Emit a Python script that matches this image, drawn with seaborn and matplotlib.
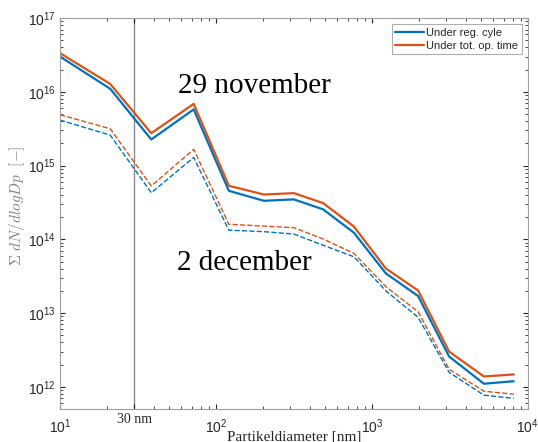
import numpy as np
import pandas as pd
import matplotlib
matplotlib.use("Agg")
import matplotlib.pyplot as plt
import seaborn as sns

# Data
diam = [10, 21, 38.5, 72, 121, 203, 316, 487, 767, 1230, 1980, 3130, 5230, 8130]
nov_tot = [3.35e16, 1.28e16, 2.75e15, 6.87e15, 5.33e14, 4.05e14, 4.23e14, 3.1e14,
           1.49e14, 4.02e13, 2.02e13, 3.0e12, 1.38e12, 1.47e12]
nov_reg = [3.01e16, 1.1e16, 2.26e15, 5.78e15, 4.55e14, 3.33e14, 3.48e14, 2.55e14,
           1.23e14, 3.45e13, 1.7e13, 2.57e12, 1.1e12, 1.19e12]
dec_tot = [4.89e15, 3.16e15, 5.3e14, 1.66e15, 1.6e14, 1.51e14, 1.44e14, 1.01e14,
           6.45e13, 2.28e13, 1.04e13, 1.73e12, 8.7e11, 7.94e11]
dec_reg = [4.14e15, 2.59e15, 4.28e14, 1.29e15, 1.33e14, 1.27e14, 1.18e14, 8.3e13,
           5.8e13, 2.0e13, 8.75e12, 1.57e12, 7.7e11, 6.97e11]
legend_labels = ["Under reg. cyle", "Under tot. op. time"]
xtick_vals = [10, 30, 100, 1000, 10000]
xtick_labels = [r"$10^{1}$", "30 nm", r"$10^{2}$", r"$10^{3}$", r"$10^{4}$"]

sns.set_style("ticks")
plt.rcParams["font.family"] = ["Liberation Sans", "DejaVu Sans"]
plt.rcParams["mathtext.fontset"] = "custom"
plt.rcParams["mathtext.rm"] = "Liberation Sans"
plt.rcParams["mathtext.it"] = "Liberation Sans:italic"

blue = "#0072BD"
orange = "#D95319"

fig = plt.figure(figsize=(5.38, 4.42), dpi=100)
ax = fig.add_axes([0.1115, 0.0747, 0.8695, 0.8843])

df = pd.DataFrame({"d": diam, "nov_reg": nov_reg, "nov_tot": nov_tot,
                   "dec_reg": dec_reg, "dec_tot": dec_tot})

sns.lineplot(data=df, x="d", y="nov_reg", ax=ax, color=blue, lw=1.6,
             label=legend_labels[0])
sns.lineplot(data=df, x="d", y="nov_tot", ax=ax, color=orange, lw=1.6,
             label=legend_labels[1])
sns.lineplot(data=df, x="d", y="dec_reg", ax=ax, color=blue, lw=1.0,
             linestyle="--", dashes=(3, 1.5), legend=False)
sns.lineplot(data=df, x="d", y="dec_tot", ax=ax, color=orange, lw=1.0,
             linestyle="--", dashes=(3, 1.5), legend=False)

ax.axvline(30, color="#8c8c8c", lw=1.0, zorder=0)

ax.set_xscale("log")
ax.set_yscale("log")
ax.set_xlim(10, 1e4)
ax.set_ylim(5.0e11, 1e17)

ax.set_xticks(xtick_vals)
ax.set_xticklabels(xtick_labels)
for lbl in ax.get_xticklabels():
    if lbl.get_text() == "30 nm":
        lbl.set_family(["Liberation Serif"])
        lbl.set_fontsize(11)
        lbl.set_va("top")
        lbl.set_y(0.012)

ax.tick_params(which="both", direction="in", top=True, right=True,
               labelsize=10, colors="#262626", length=3.5)
ax.tick_params(which="minor", length=2)
ax.tick_params(axis="x", pad=6)
ax.tick_params(axis="y", pad=3)
for s in ax.spines.values():
    s.set_color("#a0a0a0")
    s.set_linewidth(0.8)
    s.set_visible(True)

ax.set_xlabel("Partikeldiameter [nm]", family=["Liberation Serif"],
              fontsize=11, color="#262626", labelpad=-4)
ax.set_ylabel(r"$\Sigma\ dN/dlogDp\ \ [-]$", fontsize=11, color="#808080")
ax.yaxis.label.set_math_fontfamily("cm")
ax.yaxis.set_label_coords(-0.07, 0.52)

ax.text(57, 1.2e16, "29 november", family=["Liberation Serif"], fontsize=21,
        va="center", ha="left", color="black")
ax.text(56, 4.8e13, "2 december", family=["Liberation Serif"], fontsize=21,
        va="center", ha="left", color="black")

leg = ax.legend(loc="upper right", fontsize=8, frameon=True, fancybox=False,
                edgecolor="#9a9a9a", borderaxespad=0.55, handlelength=2.6,
                handletextpad=0.2, labelspacing=0.3, borderpad=0.3)
leg.get_frame().set_linewidth(0.8)

fig.savefig("out.png", dpi=100)
